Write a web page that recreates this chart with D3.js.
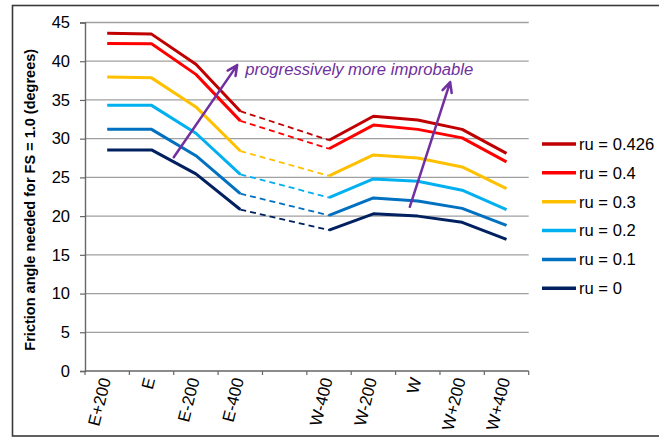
<!DOCTYPE html>
<html><head><meta charset="utf-8">
<script src="https://cdn.jsdelivr.net/npm/d3@7"></script>
<style>
body{margin:0;background:#fff;}
text{font-family:"Liberation Sans",Arial,sans-serif;}
</style></head>
<body><svg id="c" width="659" height="438"></svg>
<script>
const categories = ["E+200","E","E-200","E-400","","W-400","W-200","W","W+200","W+400"];
const seriesNames = ["ru = 0.426","ru = 0.4","ru = 0.3","ru = 0.2","ru = 0.1","ru = 0"];
const seriesColors = ["#C00000","#FF0000","#FFC000","#00B0F0","#0070C0","#002060"];
const ru0426 = [43.6,43.5,39.6,33.55,null,29.8,32.9,32.4,31.2,28.1];
const ru04   = [42.3,42.25,38.3,32.3,null,28.7,31.75,31.2,30.1,27.0];
const ru03   = [37.95,37.85,34.1,28.4,null,25.2,27.9,27.5,26.35,23.55];
const ru02   = [34.3,34.3,30.7,25.4,null,22.4,24.8,24.5,23.35,20.85];
const ru01   = [31.2,31.2,27.8,22.9,null,20.1,22.35,21.95,21.0,18.8];
const ru0    = [28.55,28.55,25.45,20.85,null,18.2,20.3,20.0,19.2,17.0];
const seriesValues = [ru0426,ru04,ru03,ru02,ru01,ru0];
const yTicks = [0,5,10,15,20,25,30,35,40,45];
const yTitle = "Friction angle needed for FS = 1.0 (degrees)";
const annotationText = "progressively more improbable";
// arrows in (category position, value) units
const arrows = [
  {x1:2.0, y1:27.6, x2:3.43, y2:39.5},
  {x1:7.32, y1:21.2, x2:8.23, y2:37.3}
];
const annotationPos = {x:3.61, y:38.2};

const svg = d3.select("#c");
const L = 85, R = 528.7, T = 22.5, B = 371;
const x = d3.scaleBand().domain(categories.map((c,i)=>i)).range([L,R]).padding(0);
const xc = i => x(i) + x.bandwidth()/2;
const xPos = d3.scaleLinear().domain([0,categories.length]).range([L,R]);
const y = d3.scaleLinear().domain([0,45]).range([B,T]);

// outer frame
svg.append("rect").attr("x",12.5).attr("y",5.5).attr("width",720).attr("height",430.5)
  .attr("fill","none").attr("stroke","#3a3a3a").attr("stroke-width",1.6);

// gridlines
svg.append("g").selectAll("line").data(yTicks.filter(t=>t>0)).join("line")
  .attr("x1",L).attr("x2",R).attr("y1",d=>y(d)).attr("y2",d=>y(d))
  .attr("stroke","#a0a0a0").attr("stroke-width",1.3);

// y axis
const yAx = svg.append("g").attr("transform",`translate(${L},0)`)
  .call(d3.axisLeft(y).tickValues(yTicks).tickSize(5).tickPadding(10));
yAx.select(".domain").attr("stroke","#666").attr("stroke-width",1.4);
yAx.selectAll(".tick line").attr("stroke","#666").attr("stroke-width",1.2);
yAx.selectAll("text").attr("font-size",16.5).attr("fill","#000").attr("font-family","Liberation Sans, Arial, sans-serif");

// x axis
const xAx = svg.append("g").attr("transform",`translate(0,${B})`);
xAx.append("line").attr("x1",L).attr("x2",R).attr("stroke","#666").attr("stroke-width",1.4);
xAx.selectAll(".tk").data(d3.range(categories.length+1)).join("line")
  .attr("x1",d=>xPos(d)).attr("x2",d=>xPos(d)).attr("y1",0).attr("y2",4)
  .attr("stroke","#666").attr("stroke-width",1.2);
xAx.selectAll(".lb").data(categories).join("text")
  .attr("transform",(d,i)=>`translate(${xc(i)-2},7) rotate(-76)`)
  .attr("text-anchor","end").attr("dy","0.35em")
  .attr("font-size",16.8).attr("fill","#000").text(d=>d);

// y title
svg.append("text").attr("transform",`translate(30,${(T+B)/2+3}) rotate(-90)`)
  .attr("text-anchor","middle").attr("dy","0.35em")
  .attr("font-size",14.5).attr("font-weight","bold").text(yTitle);

// series
const solid = d3.line().defined(d=>d.v!=null).x(d=>xc(d.i)).y(d=>y(d.v));
seriesValues.forEach((vals,k)=>{
  const pts = vals.map((v,i)=>({i,v}));
  const before = pts.filter(p=>p.v!=null && p.i<4).pop();
  const after = pts.find(p=>p.v!=null && p.i>4);
  svg.append("path").datum([before,after]).attr("d",solid)
    .attr("fill","none").attr("stroke",seriesColors[k]).attr("stroke-width",1.8)
    .attr("stroke-dasharray","6,4");
  svg.append("path").datum(pts).attr("d",solid)
    .attr("fill","none").attr("stroke",seriesColors[k]).attr("stroke-width",3)
    .attr("stroke-linejoin","round");
});

// arrows
const purple = "#7030A0";
arrows.forEach(a=>{
  const X1=xPos(a.x1),Y1=y(a.y1),X2=xPos(a.x2),Y2=y(a.y2);
  const ang = Math.atan2(Y2-Y1,X2-X1), len=11, spread=0.45;
  const h1=[X2-len*Math.cos(ang-spread),Y2-len*Math.sin(ang-spread)];
  const h2=[X2-len*Math.cos(ang+spread),Y2-len*Math.sin(ang+spread)];
  svg.append("path").attr("d",`M${X1},${Y1}L${X2},${Y2}M${h1[0]},${h1[1]}L${X2},${Y2}L${h2[0]},${h2[1]}`)
    .attr("fill","none").attr("stroke",purple).attr("stroke-width",2.5)
    .attr("stroke-linecap","round").attr("stroke-linejoin","round");
});
svg.append("text").attr("x",xPos(annotationPos.x)).attr("y",y(annotationPos.y))
  .attr("font-size",16.7).attr("font-style","italic").attr("fill",purple).text(annotationText);

// legend
const lg = svg.append("g");
seriesNames.forEach((n,k)=>{
  const yy = 144 + k*28.85;
  lg.append("line").attr("x1",542).attr("x2",576).attr("y1",yy).attr("y2",yy)
    .attr("stroke",seriesColors[k]).attr("stroke-width",3.5);
  lg.append("text").attr("x",579).attr("y",yy).attr("dy","0.35em")
    .attr("font-size",16.6).attr("fill","#000").text(n);
});
</script></body></html>
